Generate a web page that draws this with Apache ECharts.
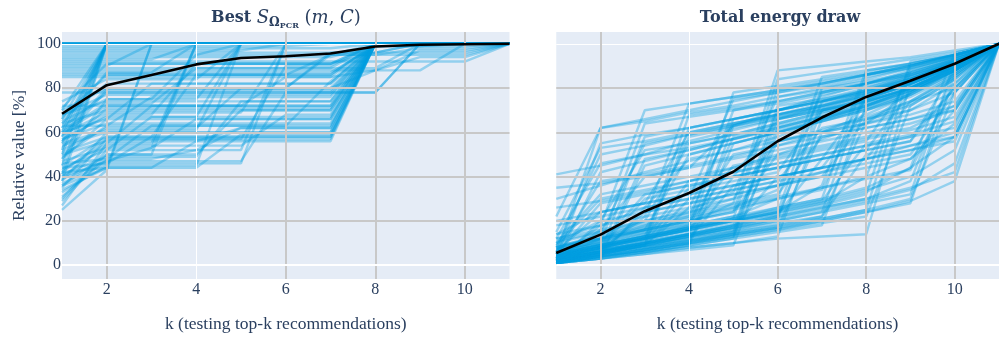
<!DOCTYPE html>
<html>
<head>
<meta charset="utf-8">
<script src="https://cdn.jsdelivr.net/npm/echarts@6/dist/echarts.min.js"></script>
<style>
  html, body { margin: 0; padding: 0; background: #ffffff; }
  #chart { width: 999px; height: 338px; }
</style>
</head>
<body>
<div id="chart"></div>
<script>
// k = number of top-ranked recommendations tested
const kValues = [1, 2, 3, 4, 5, 6, 7, 8, 9, 10, 11];
const xTicks = [2, 4, 6, 8, 10];
const yTicks = [0, 20, 40, 60, 80, 100];

// Best S score found among the top-k recommendations, relative to the best overall [%]
const scoreRuns = [
  [100,100,100,100,100,100,100,100,100,100,100],
  [100,100,100,100,100,100,100,100,100,100,100],
  [100,100,100,100,100,100,100,100,100,100,100],
  [100,100,100,100,100,100,100,100,100,100,100],
  [100,100,100,100,100,100,100,100,100,100,100],
  [100,100,100,100,100,100,100,100,100,100,100],
  [100,100,100,100,100,100,100,100,100,100,100],
  [100,100,100,100,100,100,100,100,100,100,100],
  [100,100,100,100,100,100,100,100,100,100,100],
  [100,100,100,100,100,100,100,100,100,100,100],
  [99,99,99,99,99,99,100,100,100,100,100],
  [98,98,98,98,98,98,98,100,100,100,100],
  [97,97,97,97,97,100,100,100,100,100,100],
  [96,96,96,96,96,96,96,96,100,100,100],
  [95,95,95,95,100,100,100,100,100,100,100],
  [94,94,94,94,94,94,94,99,99,99,100],
  [93,93,93,100,100,100,100,100,100,100,100],
  [92,92,92,92,92,92,92,92,92,92,100],
  [91,91,91,91,91,91,91,96,96,96,100],
  [90,90,100,100,100,100,100,100,100,100,100],
  [89,89,89,89,89,89,89,89,100,100,100],
  [88,88,88,88,88,88,88,88,97,97,100],
  [87,87,87,100,100,100,100,100,100,100,100],
  [86,86,86,86,86,86,95,95,98,98,100],
  [85,85,85,85,85,85,85,88,94,94,100],
  [80,80,80,80,80,80,95,95,95,95,100],
  [78,78,78,78,78,78,78,78,100,100,100],
  [70,100,100,100,100,100,100,100,100,100,100],
  [66,100,100,100,100,100,100,100,100,100,100],
  [62,100,100,100,100,100,100,100,100,100,100],
  [60,100,100,100,100,100,100,100,100,100,100],
  [58,100,100,100,100,100,100,100,100,100,100],
  [55,100,100,100,100,100,100,100,100,100,100],
  [52,100,100,100,100,100,100,100,100,100,100],
  [50,100,100,100,100,100,100,100,100,100,100],
  [45,100,100,100,100,100,100,100,100,100,100],
  [41,100,100,100,100,100,100,100,100,100,100],
  [38,100,100,100,100,100,100,100,100,100,100],
  [72,72,72,72,72,72,72,100,100,100,100],
  [68,74,74,74,74,74,74,100,100,100,100],
  [64,70,70,70,70,70,70,99,99,100,100],
  [60,66,66,66,66,66,66,100,100,100,100],
  [57,64,64,64,64,64,64,100,100,100,100],
  [54,60,60,60,60,60,60,100,100,100,100],
  [50,56,56,56,62,62,62,100,100,100,100],
  [46,48,48,52,62,62,62,100,100,100,100],
  [44,46,46,46,46,100,100,100,100,100,100],
  [42,44,100,100,100,100,100,100,100,100,100],
  [40,47,53,100,100,100,100,100,100,100,100],
  [36,50,50,100,100,100,100,100,100,100,100],
  [33,45,45,45,100,100,100,100,100,100,100],
  [30,52,52,52,52,100,100,100,100,100,100],
  [27,55,55,100,100,100,100,100,100,100,100],
  [25,43,100,100,100,100,100,100,100,100,100],
  [62,78,78,78,78,78,78,78,100,100,100],
  [70,80,80,80,80,80,80,88,88,100,100],
  [58,80,80,80,80,80,96,96,100,100,100],
  [48,75,75,75,100,100,100,100,100,100,100],
  [52,62,62,62,80,80,80,100,100,100,100],
  [45,58,58,86,86,86,86,100,100,100,100],
  [66,82,82,82,82,82,82,100,100,100,100],
  [74,84,84,84,100,100,100,100,100,100,100],
  [56,68,68,91,91,91,91,100,100,100,100],
  [38,60,60,60,60,60,60,100,100,100,100],
  [48,66,82,82,82,82,82,100,100,100,100],
  [35,57,57,57,57,90,90,100,100,100,100],
  [60,72,72,72,72,85,85,100,100,100,100],
  [65,75,75,95,95,95,95,100,100,100,100],
  [43,55,72,72,72,72,72,100,100,100,100],
  [39,47,47,47,47,78,78,100,100,100,100],
  [63,63,76,76,76,76,76,100,100,100,100],
  [59,69,69,69,69,100,100,100,100,100,100],
  [55,61,61,61,100,100,100,100,100,100,100],
  [51,58,58,58,58,58,58,100,100,100,100],
  [47,53,53,66,66,66,66,100,100,100,100],
  [44,52,67,67,67,67,67,100,100,100,100],
  [41,49,49,49,74,74,74,100,100,100,100],
  [37,46,58,58,58,58,58,100,100,100,100],
  [34,44,44,56,56,56,56,100,100,100,100],
  [31,48,63,63,63,63,63,100,100,100,100],
  [29,50,50,50,70,70,70,100,100,100,100],
  [68,77,77,77,77,77,77,100,100,100,100],
  [61,73,73,89,89,89,89,100,100,100,100],
  [53,71,71,71,71,71,71,100,100,100,100],
  [49,63,63,63,63,63,83,100,100,100,100],
  [56,79,79,79,79,79,79,100,100,100,100],
  [67,86,86,86,86,86,86,100,100,100,100],
  [42,57,57,57,57,57,57,100,100,100,100],
  [57,67,67,67,100,100,100,100,100,100,100],
  [71,91,91,91,91,91,91,100,100,100,100],
  [64,87,87,87,87,87,87,99,99,100,100],
  [40,54,54,54,54,68,68,100,100,100,100],
  [36,44,44,44,59,59,59,100,100,100,100]
];
const scoreMean = [68.4, 81.3, 85.9, 90.7, 93.6, 94.4, 95.6, 98.8, 99.6, 99.8, 100];

// Cumulative energy draw of the top-k recommendations, relative to the total [%]
const energyRuns = [
  [41,45,50,56,61,66,72,78,84,92,100],
  [35,37,40,44,63,70,76,82,88,94,100],
  [30,36,42,47,52,58,66,72,80,90,100],
  [26,29,33,38,44,50,57,64,78,88,100],
  [22,62,66,70,74,78,82,86,90,95,100],
  [5,62,65,69,72,76,80,84,89,94,100],
  [3,55,59,62,66,70,74,79,85,92,100],
  [8,50,54,59,63,68,73,78,84,91,100],
  [12,46,50,53,57,62,67,73,80,89,100],
  [2,42,47,52,57,61,66,72,79,88,100],
  [6,38,41,45,49,54,60,68,77,88,100],
  [15,53,56,60,64,68,72,76,82,90,100],
  [2,6,58,62,66,70,75,80,86,92,100],
  [4,10,64,67,70,74,78,82,87,93,100],
  [1,4,48,52,57,62,67,73,80,89,100],
  [7,14,55,59,63,67,71,77,83,91,100],
  [3,18,70,73,76,79,82,86,90,95,100],
  [10,20,52,55,59,64,69,74,80,89,100],
  [1,3,45,50,55,60,66,72,79,88,100],
  [2,5,9,62,66,70,74,79,85,92,100],
  [4,8,13,58,62,66,70,75,82,90,100],
  [1,6,11,68,71,74,78,82,87,93,100],
  [6,11,16,50,55,60,65,71,78,88,100],
  [3,7,22,73,76,79,82,86,90,95,100],
  [9,12,20,55,59,64,69,74,81,90,100],
  [14,24,28,60,64,68,72,77,83,91,100],
  [2,4,7,10,63,67,71,76,82,90,100],
  [5,9,12,16,70,73,77,81,86,93,100],
  [1,3,6,9,55,60,65,70,77,87,100],
  [3,8,12,18,78,81,84,87,91,95,100],
  [8,13,17,22,66,70,74,79,84,91,100],
  [4,6,10,14,58,63,68,74,80,89,100],
  [12,18,26,30,75,78,81,85,89,94,100],
  [2,5,9,26,64,68,72,77,83,91,100],
  [1,3,5,7,9,60,65,70,77,87,100],
  [3,6,9,12,15,72,75,79,84,91,100],
  [2,5,8,11,14,66,70,74,80,89,100],
  [5,9,13,17,21,80,83,86,90,95,100],
  [1,4,7,10,13,56,61,67,74,85,100],
  [7,12,16,20,24,84,87,90,93,96,100],
  [4,7,10,14,18,62,67,72,79,88,100],
  [2,4,6,9,12,70,74,78,83,90,100],
  [10,15,20,25,33,76,79,82,86,92,100],
  [6,10,15,19,28,88,90,92,94,97,100],
  [1,3,5,8,10,13,66,71,78,88,100],
  [3,7,10,14,17,21,74,78,83,91,100],
  [2,5,8,11,14,17,60,66,74,86,100],
  [5,8,12,16,20,24,80,83,87,93,100],
  [4,9,14,18,22,30,85,88,91,95,100],
  [2,6,10,14,18,22,70,74,80,89,100],
  [8,14,18,22,26,34,78,82,86,92,100],
  [1,3,6,9,12,15,18,72,79,88,100],
  [3,6,9,13,16,20,24,80,85,91,100],
  [2,5,8,11,15,18,22,65,73,85,100],
  [5,9,13,17,21,26,30,86,89,94,100],
  [4,8,12,16,20,24,36,88,91,95,100],
  [6,12,17,21,26,30,34,76,81,89,100],
  [2,4,6,8,10,12,13,14,82,90,100],
  [3,6,9,12,15,18,21,25,88,93,100],
  [1,4,7,10,13,16,19,22,72,84,100],
  [5,9,13,17,20,23,27,32,92,95,100],
  [4,8,12,16,20,24,28,40,90,94,100],
  [2,5,8,11,14,17,20,24,28,86,100],
  [3,6,10,13,17,20,24,28,32,92,100],
  [1,4,7,10,14,17,21,25,30,78,100],
  [6,10,14,18,22,26,30,35,44,96,100],
  [4,7,11,14,18,22,26,30,38,88,100],
  [1,4,7,10,13,16,20,24,29,38,100],
  [3,6,10,14,18,22,26,30,35,42,100],
  [2,5,9,13,17,21,25,29,34,46,100],
  [5,9,13,17,21,25,29,34,40,52,100],
  [4,8,12,16,20,24,28,33,44,58,100],
  [6,11,16,20,25,30,35,40,48,64,100],
  [3,8,30,34,38,42,70,75,82,90,100],
  [5,28,32,36,40,66,70,75,82,90,100],
  [2,6,10,35,40,44,48,75,82,90,100],
  [10,32,36,40,44,48,52,56,84,92,100],
  [1,4,26,30,34,38,42,46,50,78,100],
  [4,8,12,16,40,44,48,52,78,90,100],
  [6,24,28,32,36,40,44,70,76,86,100],
  [2,5,9,30,34,38,62,66,72,84,100],
  [18,22,26,48,52,56,60,64,70,82,100],
  [8,12,16,20,24,50,54,58,62,72,100],
  [3,7,11,15,19,23,48,52,56,80,100],
  [1,20,24,28,32,36,40,44,48,70,100],
  [12,16,40,44,48,52,56,60,64,70,100],
  [4,8,12,38,42,46,50,54,58,80,100],
  [7,11,15,19,45,49,53,57,61,67,100],
  [2,6,24,28,32,36,40,66,70,78,100],
  [9,30,34,38,42,46,50,54,58,62,100],
  [5,9,13,17,21,25,29,55,59,65,100],
  [3,6,9,12,36,40,44,48,52,56,100],
  [14,18,22,26,30,56,60,64,68,74,100],
  [2,16,20,24,28,32,58,62,66,72,100],
  [6,10,32,36,40,44,48,52,56,88,100],
  [20,24,28,32,36,40,44,48,74,80,100],
  [4,7,10,13,16,19,22,50,54,58,100],
  [1,5,9,13,17,40,44,48,52,58,100],
  [11,15,19,23,27,31,35,39,43,82,100],
  [3,12,18,24,30,36,42,48,54,60,100],
  [8,12,16,20,50,54,58,62,66,70,100]
];
const energyMean = [5.5, 13.8, 24.4, 32.6, 42.2, 56.0, 66.7, 76.0, 83.3, 91.0, 100];

// ---- styling ----
const TEXT = '#2a3f5f';
const PLOT_BG = '#e5ecf6';
const GRID_GRAY = '#c8c8c8';
const RUN_COLOR = 'rgba(0,158,224,0.36)';
const SERIF = '"Liberation Serif", "Times New Roman", serif';
const TITLE_FONT = '"DejaVu Serif", serif';
const lightXLines = [4];      // vertical grid lines drawn thin and white
const lightYLines = [100];    // horizontal grid lines drawn thin and white

function gridLineMarks() {
  const white = { color: '#ffffff', width: 1, type: 'solid', opacity: 1 };
  const gray = { color: GRID_GRAY, width: 2, type: 'solid', opacity: 1 };
  const data = [];
  xTicks.filter(v => lightXLines.includes(v)).forEach(v => data.push({ xAxis: v, lineStyle: white }));
  yTicks.filter(v => lightYLines.includes(v)).forEach(v => data.push({ yAxis: v, lineStyle: white }));
  xTicks.filter(v => !lightXLines.includes(v)).forEach(v => data.push({ xAxis: v, lineStyle: gray }));
  yTicks.filter(v => v !== 0 && !lightYLines.includes(v)).forEach(v => data.push({ yAxis: v, lineStyle: gray }));
  data.push({ yAxis: 0, lineStyle: { color: '#ffffff', width: 2, type: 'solid', opacity: 1 } });
  return {
    silent: true,
    symbol: ['none', 'none'],
    label: { show: false },
    emphasis: { disabled: true },
    animation: false,
    data: data
  };
}

function toPoints(values) {
  return kValues.map((k, i) => [k, values[i]]);
}

const series = [];
[0, 1].forEach(gi => {
  series.push({
    type: 'line', xAxisIndex: gi, yAxisIndex: gi, data: [], z: 1,
    silent: true, animation: false, markLine: gridLineMarks()
  });
});
scoreRuns.forEach(run => series.push({
  type: 'line', xAxisIndex: 0, yAxisIndex: 0, data: toPoints(run),
  showSymbol: false, symbol: 'none', silent: true, animation: false, z: 3,
  lineStyle: { color: RUN_COLOR, width: 2.4 }
}));
energyRuns.forEach(run => series.push({
  type: 'line', xAxisIndex: 1, yAxisIndex: 1, data: toPoints(run),
  showSymbol: false, symbol: 'none', silent: true, animation: false, z: 3,
  lineStyle: { color: RUN_COLOR, width: 2.4 }
}));
series.push({
  type: 'line', xAxisIndex: 0, yAxisIndex: 0, data: toPoints(scoreMean),
  showSymbol: false, symbol: 'none', silent: true, animation: false, z: 5,
  lineStyle: { color: '#000000', width: 2.6 }
});
series.push({
  type: 'line', xAxisIndex: 1, yAxisIndex: 1, data: toPoints(energyMean),
  showSymbol: false, symbol: 'none', silent: true, animation: false, z: 5,
  lineStyle: { color: '#000000', width: 2.6 }
});

function xAxisFor(gi) {
  return {
    gridIndex: gi, type: 'value', min: 1, max: 11,
    axisLine: { show: false }, axisTick: { show: false }, splitLine: { show: false },
    axisLabel: { customValues: xTicks, color: TEXT, fontFamily: SERIF, fontSize: 16, margin: 3 },
    name: 'k (testing top-k recommendations)', nameLocation: 'middle', nameGap: 36,
    nameTextStyle: { color: TEXT, fontFamily: SERIF, fontSize: 17.5 }
  };
}
function yAxisFor(gi) {
  const ax = {
    gridIndex: gi, type: 'value', min: -6.22, max: 105.33,
    axisLine: { show: false }, axisTick: { show: false }, splitLine: { show: false },
    axisLabel: { show: gi === 0, customValues: yTicks, color: TEXT, fontFamily: SERIF, fontSize: 16, margin: 1 }
  };
  if (gi === 0) {
    ax.name = 'Relative value [%]';
    ax.nameLocation = 'middle';
    ax.nameGap = 34;
    ax.nameTextStyle = { color: TEXT, fontFamily: SERIF, fontSize: 17.5 };
  }
  return ax;
}

const chart = echarts.init(document.getElementById('chart'), null, { renderer: 'canvas' });
chart.setOption({
  animation: false,
  backgroundColor: '#ffffff',
  grid: [
    { left: 62, top: 32, width: 447.5, height: 251, show: true, backgroundColor: PLOT_BG, borderWidth: 0, containLabel: false },
    { left: 556.25, top: 32, width: 447.5, height: 251, show: true, backgroundColor: PLOT_BG, borderWidth: 0, containLabel: false }
  ],
  xAxis: [xAxisFor(0), xAxisFor(1)],
  yAxis: [yAxisFor(0), yAxisFor(1)],
  graphic: [
    {
      type: 'text', x: 286, y: 18, silent: true,
      style: {
        text: '{b|Best }{i|S}{s1|Ω}{s2|PCR}{p| (}{i|m}{p|, }{i|C}{p|)}',
        align: 'center', verticalAlign: 'middle', fill: TEXT,
        rich: {
          b: { fontFamily: TITLE_FONT, fontWeight: 'bold', fontSize: 16, fill: TEXT },
          i: { fontFamily: TITLE_FONT, fontStyle: 'italic', fontSize: 18, fill: TEXT },
          p: { fontFamily: TITLE_FONT, fontSize: 18, fill: TEXT },
          s1: { fontFamily: TITLE_FONT, fontWeight: 'bold', fontSize: 12, fill: TEXT, padding: [10, 0, 0, 0] },
          s2: { fontFamily: TITLE_FONT, fontWeight: 'bold', fontSize: 8, fill: TEXT, padding: [16, 0, 0, 0] }
        }
      }
    },
    {
      type: 'text', x: 780, y: 18, silent: true,
      style: {
        text: 'Total energy draw', align: 'center', verticalAlign: 'middle',
        fontFamily: TITLE_FONT, fontWeight: 'bold', fontSize: 16, fill: TEXT
      }
    }
  ],
  series: series
});
</script>
</body>
</html>
